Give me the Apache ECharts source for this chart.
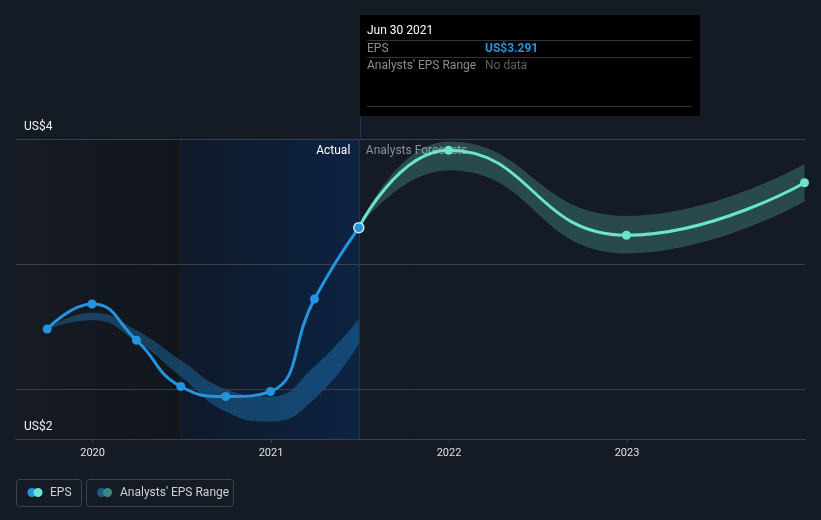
<!DOCTYPE html>
<html>
<head lang="en">
    <meta charset="UTF-8">
    <title>EPS</title>
    <style>
        html, body { margin: 0; padding: 0; background: #151b24; }
        #main { width: 821px; height: 520px; }
    </style>
</head>
<body>
<div id="main"></div>
<script src="https://cdn.jsdelivr.net/npm/echarts@6/dist/echarts.min.js"></script>
<script>
    // 实际 EPS（季度）
    var actualDates = ['2019-09-30', '2019-12-31', '2020-03-31', '2020-06-30', '2020-09-30', '2020-12-31', '2021-03-31', '2021-06-30'];
    var epsActual = [2.48, 2.68, 2.39, 2.02, 1.94, 1.98, 2.72, 3.291];
    // 过去的分析师区间
    var histLow = [2.48, 2.55, 2.38, 2.10, 1.82, 1.74, 1.92, 2.36];
    var histHigh = [2.48, 2.61, 2.47, 2.23, 2.00, 1.94, 2.18, 2.56];

    // 分析师预测
    var forecastDates = ['2021-06-30', '2021-12-31', '2022-12-31', '2023-12-31'];
    var epsForecast = [3.291, 3.91, 3.23, 3.65];
    var forecastLow = [3.291, 3.75, 3.085, 3.50];
    var forecastHigh = [3.291, 3.98, 3.385, 3.80];

    // 坐标轴刻度
    var yTicks = [1.6, 4];
    var yTickLabels = ['US$2', 'US$4'];
    var gridValues = [2, 3, 4];
    var ONE_YEAR = 365 * 24 * 3600 * 1000;

    var blue = '#2394df';
    var teal = '#6ce3cf';
    var gridColor = '#3a4049';

    function pairs(dates, vals) {
        return dates.map(function (d, i) { return [d, vals[i]]; });
    }
    function diffs(dates, lo, hi) {
        return dates.map(function (d, i) { return [d, +(hi[i] - lo[i]).toFixed(3)]; });
    }

    var last = epsActual.length - 1;
    var actualData = pairs(actualDates, epsActual).map(function (p, i) {
        if (i === last) {
            return { value: p, symbolSize: 10, itemStyle: { borderColor: '#c9e4f7', borderWidth: 1.5 } };
        }
        return p;
    });

    var lastDate = echarts.time.format(actualDates[last], '{MMM} {dd} {yyyy}', false);

    var myChart = echarts.init(document.getElementById('main'));

    var option = {
        backgroundColor: '#151b24',
        animation: false,
        textStyle: { fontFamily: 'Roboto, sans-serif' },
        grid: { left: 16, right: 16, top: 139, bottom: 81 },
        xAxis: {
            type: 'time',
            min: '2019-07-28',
            max: '2024-01-01',
            minInterval: ONE_YEAR,
            z: 10,
            axisLine: { lineStyle: { color: gridColor } },
            axisTick: { show: true, length: 4, lineStyle: { color: gridColor } },
            axisLabel: {
                color: '#e0e0e0', fontSize: 11, margin: 9,
                showMinLabel: false, showMaxLabel: false,
                formatter: '{yyyy}'
            },
            splitLine: { show: false }
        },
        yAxis: {
            type: 'value',
            min: 1.6,
            max: 4,
            interval: 0.4,
            z: 10,
            axisLine: { show: false },
            axisTick: { show: false },
            splitLine: { show: false },
            axisLabel: {
                inside: true,
                showMinLabel: true,
                showMaxLabel: true,
                margin: 8,
                color: '#f0f0f0',
                fontSize: 12,
                verticalAlign: 'bottom',
                padding: [0, 0, 6, 0],
                formatter: function (v) {
                    var n = Number(v);
                    for (var i = 0; i < yTicks.length; i++) {
                        if (Math.abs(n - yTicks[i]) < 1e-6) { return yTickLabels[i]; }
                    }
                    return '';
                }
            }
        },
        series: [
            {
                name: 'histLow', type: 'line', stack: 'hist', smooth: true, symbol: 'none',
                lineStyle: { opacity: 0 }, silent: true,
                data: pairs(actualDates, histLow),
                markArea: {
                    silent: true,
                    data: [
                        [{
                            xAxis: '2019-07-28',
                            itemStyle: {
                                color: new echarts.graphic.LinearGradient(0, 0, 1, 0, [
                                    { offset: 0, color: '#161b24' }, { offset: 1, color: '#11151c' }
                                ])
                            }
                        }, { xAxis: '2020-06-30' }],
                        [{
                            xAxis: '2020-06-30',
                            itemStyle: {
                                color: new echarts.graphic.LinearGradient(0, 0, 1, 0, [
                                    { offset: 0, color: '#0f1929' }, { offset: 1, color: '#0c2342' }
                                ]),
                                borderColor: '#14253b', borderWidth: 1
                            },
                            label: {
                                show: true, position: 'insideTopRight', formatter: 'Actual',
                                color: '#ffffff', fontSize: 12, distance: 6, offset: [-3, 0]
                            }
                        }, { xAxis: '2021-06-30' }],
                        [{
                            xAxis: '2021-06-30',
                            itemStyle: { color: 'rgba(0,0,0,0)' },
                            label: {
                                show: true, position: 'insideTopLeft', formatter: 'Analysts Forecasts',
                                color: '#8c9299', fontSize: 12, distance: 6, offset: [1, 0]
                            }
                        }, { xAxis: '2024-01-01' }]
                    ]
                }
            },
            {
                name: 'histRange', type: 'line', stack: 'hist', smooth: true, symbol: 'none',
                lineStyle: { opacity: 0 }, silent: true,
                areaStyle: { color: 'rgba(35,148,223,0.34)', opacity: 1 },
                data: diffs(actualDates, histLow, histHigh)
            },
            {
                name: 'fcLow', type: 'line', stack: 'fc', smooth: true, symbol: 'none',
                lineStyle: { opacity: 0 }, silent: true,
                data: pairs(forecastDates, forecastLow)
            },
            {
                name: 'fcRange', type: 'line', stack: 'fc', smooth: true, symbol: 'none',
                lineStyle: { opacity: 0 }, silent: true,
                areaStyle: { color: 'rgba(108,227,207,0.24)', opacity: 1 },
                data: diffs(forecastDates, forecastLow, forecastHigh)
            },
            {
                name: 'EPS forecast', type: 'line', smooth: true,
                symbol: 'circle', symbolSize: 9, showSymbol: true,
                lineStyle: { color: teal, width: 3 },
                itemStyle: { color: teal },
                data: pairs(forecastDates, epsForecast),
                z: 4
            },
            {
                name: 'EPS', type: 'line', smooth: true,
                symbol: 'circle', symbolSize: 9,
                lineStyle: { color: blue, width: 3 },
                itemStyle: { color: blue },
                data: actualData,
                z: 5,
                markLine: {
                    silent: true, symbol: 'none', label: { show: false },
                    data: gridValues.map(function (v) {
                        return { yAxis: v, lineStyle: { color: gridColor, width: 1, type: 'solid' } };
                    }).concat([{ xAxis: actualDates[last], lineStyle: { color: '#1d3655', width: 1, type: 'solid' } }])
                }
            }
        ],
        graphic: [
            // 提示框
            { type: 'rect', shape: { x: 360, y: 15, width: 340, height: 101 }, style: { fill: '#000000' } },
            { type: 'line', shape: { x1: 360.5, y1: 116, x2: 360.5, y2: 139 }, style: { stroke: '#1d3655', lineWidth: 1 } },
            { type: 'text', x: 367, y: 31, style: { text: lastDate, fill: '#ffffff', font: '12px Roboto', verticalAlign: 'middle' } },
            { type: 'line', shape: { x1: 367, y1: 40.5, x2: 692, y2: 40.5 }, style: { stroke: '#333333', lineWidth: 1 } },
            { type: 'text', x: 367, y: 48.5, style: { text: 'EPS', fill: '#8c8c8c', font: '12px Roboto', verticalAlign: 'middle' } },
            { type: 'text', x: 485, y: 48.5, style: { text: 'US$' + epsActual[last].toFixed(3), fill: blue, font: 'bold 12px Roboto', verticalAlign: 'middle' } },
            { type: 'line', shape: { x1: 367, y1: 57.5, x2: 692, y2: 57.5 }, style: { stroke: '#333333', lineWidth: 1 } },
            { type: 'text', x: 367, y: 65.5, style: { text: "Analysts' EPS Range", fill: '#8c8c8c', font: '12px Roboto', verticalAlign: 'middle' } },
            { type: 'text', x: 485, y: 65.5, style: { text: 'No data', fill: '#5e5e5e', font: '12px Roboto', verticalAlign: 'middle' } },
            { type: 'line', shape: { x1: 367, y1: 106.5, x2: 692, y2: 106.5 }, style: { stroke: '#333333', lineWidth: 1 } },
            // 图例
            { type: 'rect', shape: { x: 16.5, y: 479.5, width: 65, height: 27, r: 3 }, style: { fill: 'none', stroke: '#3d434c', lineWidth: 1 } },
            { type: 'circle', shape: { cx: 32, cy: 492.5, r: 4.5 }, style: { fill: blue } },
            { type: 'circle', shape: { cx: 38, cy: 492.5, r: 4.5 }, style: { fill: teal } },
            { type: 'text', x: 50, y: 492.5, style: { text: 'EPS', fill: '#d0d0d0', font: '12px Roboto', verticalAlign: 'middle' } },
            { type: 'rect', shape: { x: 86.5, y: 479.5, width: 147, height: 27, r: 3 }, style: { fill: 'none', stroke: '#3d434c', lineWidth: 1 } },
            { type: 'circle', shape: { cx: 101.5, cy: 492.5, r: 4.5 }, style: { fill: '#225a85' } },
            { type: 'circle', shape: { cx: 107.5, cy: 492.5, r: 4.5 }, style: { fill: '#3e8683' } },
            { type: 'text', x: 120, y: 492.5, style: { text: "Analysts' EPS Range", fill: '#d0d0d0', font: '12px Roboto', verticalAlign: 'middle' } }
        ]
    };

    myChart.setOption(option);
</script>
</body>
</html>
